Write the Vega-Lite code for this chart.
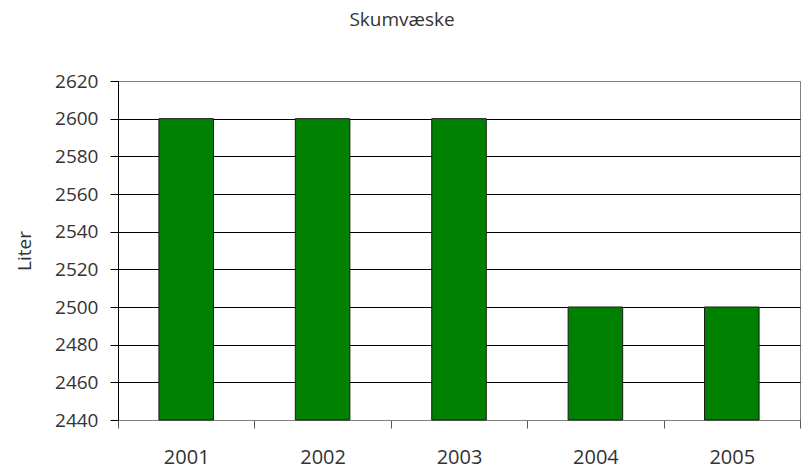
{
  "$schema": "https://vega.github.io/schema/vega-lite/v6.json",
  "autosize": {"type": "none"},
  "width": 682,
  "height": 339,
  "padding": {"left": 118, "top": 81, "right": 8, "bottom": 50},
  "background": "white",
  "config": {
    "font": "Open Sans",
    "view": {"stroke": "#808080", "strokeWidth": 1}
  },
  "title": {
    "text": "Skumvæske",
    "fontSize": 19,
    "fontWeight": "normal",
    "color": "#333333",
    "anchor": "middle",
    "dx": -57,
    "offset": 42
  },
  "data": {
    "values": [
      {"year": "2001", "liter": 2600},
      {"year": "2002", "liter": 2600},
      {"year": "2003", "liter": 2600},
      {"year": "2004", "liter": 2500},
      {"year": "2005", "liter": 2500}
    ]
  },
  "mark": {"type": "bar", "color": "#008000", "stroke": "#1a1a1a", "strokeWidth": 1, "width": {"band": 0.4}},
  "encoding": {
    "x": {
      "field": "year",
      "type": "nominal",
      "scale": {"paddingInner": 0, "paddingOuter": 0},
      "axis": {
        "title": null,
        "labelAngle": 0,
        "labelFontSize": 20,
        "labelColor": "#333333",
        "labelPadding": 19,
        "tickBand": "extent",
        "tickSize": 8,
        "tickColor": "#555555",
        "domainColor": "#808080",
        "grid": false
      }
    },
    "y": {
      "field": "liter",
      "type": "quantitative",
      "scale": {"domain": [2440, 2620], "zero": false, "nice": false, "clamp": true},
      "axis": {
        "title": "Liter",
        "titleFontSize": 19,
        "titleFontWeight": "normal",
        "titleColor": "#333333",
        "titlePadding": 20,
        "format": "d",
        "values": [2440, 2460, 2480, 2500, 2520, 2540, 2560, 2580, 2600, 2620],
        "labelFontSize": 19,
        "labelColor": "#333333",
        "labelPadding": 12,
        "tickSize": 8,
        "tickColor": "black",
        "domainColor": "black",
        "grid": true,
        "gridColor": {"condition": {"test": "datum.value == 2620", "value": "#808080"}, "value": "black"},
        "gridOpacity": 1
      }
    }
  }
}
